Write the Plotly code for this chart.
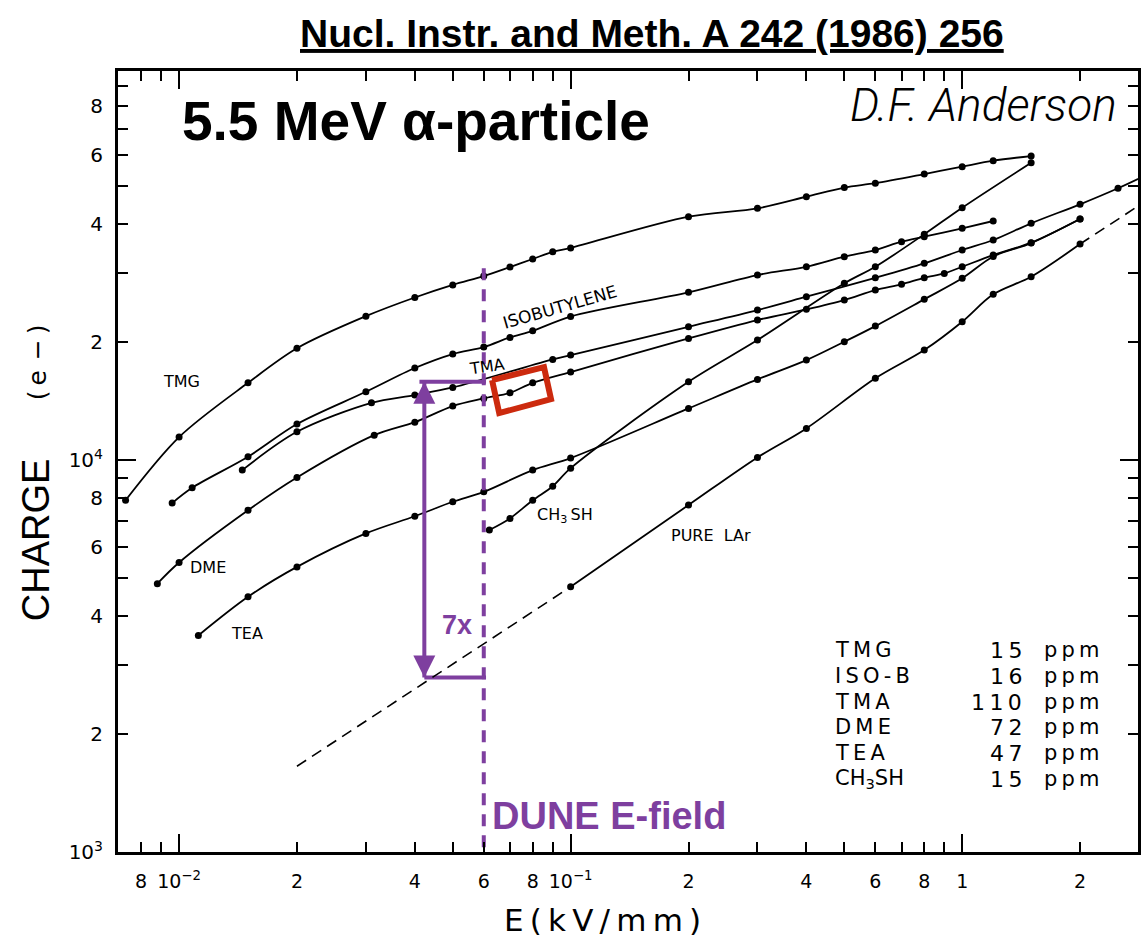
import numpy as np
import plotly.graph_objects as go

# ---------------- data (E in kV/mm, charge in electrons) ----------------
E_TMG = [0.0073, 0.01, 0.015, 0.02, 0.03, 0.04, 0.05, 0.06, 0.07, 0.08, 0.09, 0.1,
         0.2, 0.3, 0.4, 0.5, 0.6, 0.8, 1.0, 1.2, 1.5]
Q_TMG = [7900, 11450, 15750, 19300, 23300, 26000, 28000, 29500, 31100, 32600, 34000, 34800,
         41800, 43900, 47000, 49600, 50900, 53700, 56100, 58100, 59700]

E_ISO = [0.0096, 0.0108, 0.015, 0.02, 0.03, 0.04, 0.05, 0.06, 0.07, 0.08, 0.1,
         0.2, 0.3, 0.4, 0.5, 0.6, 0.7, 0.8, 1.0, 1.2]
Q_ISO = [7770, 8500, 10200, 12360, 14940, 17180, 18650, 19430, 20570, 21380, 23250,
         26800, 29670, 31150, 33040, 34370, 36090, 37170, 39050, 40760]

E_TMA = [0.0145, 0.02, 0.031, 0.04, 0.05, 0.09, 0.1, 0.2, 0.3, 0.4, 0.6, 0.8,
         1.0, 1.2, 1.5, 2.0, 2.5, 3.0]
Q_TMA = [9430, 11810, 14000, 14660, 15330, 18070, 18540, 21890, 24150, 26120, 29200, 31780,
         34370, 36450, 40210, 44960, 49400, 53800]

E_DME = [0.0088, 0.01, 0.015, 0.02, 0.0315, 0.04, 0.05, 0.06, 0.07, 0.08, 0.1,
         0.2, 0.3, 0.4, 0.5, 0.6, 0.7, 0.8, 0.9, 1.0, 1.2, 1.5, 2.0]
Q_DME = [4840, 5480, 7450, 9030, 11580, 12500, 13740, 14370, 14850, 15750, 16780,
         20450, 22780, 24250, 25620, 27160, 28090, 29200, 29960, 31150, 33370, 35880, 41240]

E_TEA = [0.0112, 0.015, 0.02, 0.03, 0.04, 0.05, 0.06, 0.08, 0.1,
         0.2, 0.3, 0.4, 0.5, 0.6, 0.8, 1.0, 1.2, 1.5, 2.0]
Q_TEA = [3570, 4480, 5340, 6500, 7190, 7830, 8300, 9430, 10120,
         13550, 16070, 18000, 20050, 21980, 25720, 29100, 33080, 35800, 41240]

E_CH3SH = [0.062, 0.07, 0.08, 0.09, 0.1, 0.2, 0.3, 0.5, 0.6, 0.8, 1.0, 1.5]
Q_CH3SH = [6630, 7100, 7900, 8580, 9540, 15850, 20250, 28260, 31150, 37700, 44070, 57400]

E_LAR = [0.1, 0.2, 0.3, 0.4, 0.6, 0.8, 1.0, 1.2, 1.5, 2.0]
Q_LAR = [4750, 7680, 10160, 12050, 16170, 19090, 22550, 26490, 29380, 35600]
# dashed power-law extrapolation of pure LAr
E_LAR_LOW = [0.02, 0.1]
Q_LAR_LOW = [1655, 4750]
E_LAR_HIGH = [2.0, 3.0]
Q_LAR_HIGH = [35600, 46400]

# purple / red overlays (data coordinates)
DUNE_E = 0.06
DUNE_Q = [30900, 1000]
ARROW_E = 0.0423
ARROW_Q = [15850, 2790]
BAR_TOP_E = [0.0411, 0.0608]
BAR_BOT_E = [0.0423, 0.0608]
BOX_E = [0.0630, 0.0855, 0.0891, 0.0657, 0.0630]
BOX_Q = [16000, 17270, 14310, 13180, 16000]

# legend table
LEG_NAMES = ["TMG", "ISO-B", "TMA", "DME", "TEA", "CH<sub>3</sub>SH"]
LEG_PPM = ["15", "16", "110", "72", "47", "15"]

# axes ticks
X_TICKS = [0.008, 0.01, 0.02, 0.04, 0.06, 0.08, 0.1, 0.2, 0.4, 0.6, 0.8, 1, 2]
X_TICK_TEXT = ["8", "10<sup>−2</sup>", "2", "4", "6", "8", "10<sup>−1</sup>",
               "2", "4", "6", "8", "1", "2"]
X_MINOR = [0.009, 0.03, 0.05, 0.07, 0.09, 0.3, 0.5, 0.7, 0.9]
X_DECADES = [0.01, 0.1, 1]
Y_TICKS = [1000, 2000, 4000, 6000, 8000, 10000, 20000, 40000, 60000, 80000]
Y_TICK_TEXT = ["10<sup>3</sup>", "2", "4", "6", "8", "10<sup>4</sup>", "2", "4", "6", "8"]
Y_MINOR = [3000, 5000, 7000, 9000, 30000, 50000, 70000, 90000]
Y_DECADES = [1000, 10000]

# ---------------- layout constants ----------------
FIG_W, FIG_H = 1143, 939
M_L, M_R, M_T, M_B = 118, 2, 71, 87
X_RANGE = [-2.156, 0.449]
Y_RANGE = [3.0, 4.993]
PURPLE = "#7E3F9F"
RED = "#CC2A0E"
HERSHEY = "DejaVu Sans"
HELV = "Liberation Sans"


def PX(x):
    return (x - M_L) / (FIG_W - M_L - M_R)


def PY(y):
    return (FIG_H - M_B - y) / (FIG_H - M_T - M_B)


def spaced(s):
    return "\u2009".join(list(s))


fig = go.Figure()


def curve(E, Q):
    fig.add_trace(go.Scatter(
        x=E, y=Q, mode="lines+markers",
        line=dict(color="black", width=1.8, shape="spline", smoothing=0.9),
        marker=dict(color="black", size=7),
        showlegend=False, hoverinfo="skip"))


for E, Q in [(E_TMG, Q_TMG), (E_ISO, Q_ISO), (E_TMA, Q_TMA), (E_DME, Q_DME),
             (E_TEA, Q_TEA), (E_CH3SH, Q_CH3SH), (E_LAR, Q_LAR)]:
    curve(E, Q)

for E, Q in [(E_LAR_LOW, Q_LAR_LOW), (E_LAR_HIGH, Q_LAR_HIGH)]:
    fig.add_trace(go.Scatter(
        x=E, y=Q, mode="lines", xaxis="x2", yaxis="y2",
        line=dict(color="black", width=1.6, dash="11px,7px"),
        showlegend=False, hoverinfo="skip"))

# DUNE E-field dashed line
fig.add_trace(go.Scatter(
    x=[DUNE_E, DUNE_E], y=DUNE_Q, mode="lines",
    line=dict(color=PURPLE, width=4, dash="12px,9px"),
    showlegend=False, hoverinfo="skip"))
# horizontal bars
fig.add_trace(go.Scatter(
    x=BAR_TOP_E, y=[ARROW_Q[0], ARROW_Q[0]], mode="lines",
    line=dict(color=PURPLE, width=4), showlegend=False, hoverinfo="skip"))
fig.add_trace(go.Scatter(
    x=BAR_BOT_E, y=[ARROW_Q[1], ARROW_Q[1]], mode="lines",
    line=dict(color=PURPLE, width=4), showlegend=False, hoverinfo="skip"))
# double arrow
fig.add_trace(go.Scatter(
    x=[ARROW_E, ARROW_E], y=ARROW_Q, mode="lines",
    line=dict(color=PURPLE, width=4), showlegend=False, hoverinfo="skip"))
fig.add_trace(go.Scatter(
    x=[ARROW_E, ARROW_E], y=ARROW_Q, mode="markers",
    marker=dict(symbol=["arrow-up", "arrow-down"], size=22, color=PURPLE,
                line=dict(width=0)),
    showlegend=False, hoverinfo="skip"))
# red box
fig.add_trace(go.Scatter(
    x=BOX_E, y=BOX_Q, mode="lines",
    line=dict(color=RED, width=6), showlegend=False, hoverinfo="skip"))

ann = []


def text(x, y, t, size, family=HERSHEY, color="black", xanchor="center",
         angle=0, weight=None, style=None, yanchor="middle"):
    f = dict(family=family, size=size, color=color)
    if weight is not None:
        f["weight"] = weight
    if style is not None:
        f["style"] = style
    ann.append(dict(x=PX(x), y=PY(y), xref="paper", yref="paper", text=t,
                    showarrow=False, font=f, xanchor=xanchor, yanchor=yanchor,
                    textangle=angle))


text(654, 34, "<b><u>Nucl. Instr. and Meth. A 242 (1986) 256</u></b>", 39, family=HELV)
text(417, 121, "<b>5.5 MeV α-particle</b>", 55, family=HELV)
text(1122, 105, "D.F. Anderson", 46, family="Roboto", xanchor="right",
     weight=300, style="italic")
text(36, 540, "CHARGE", 38, family=HELV, angle=-90)
text(37, 362, "(\u2009e\u2009\u2009−\u2009)", 25, angle=-90)
text(604, 920, spaced("E(kV/mm)"), 31)

# curve labels
text(182, 381, "TMG", 16)
text(561, 307, "ISOBUTYLENE", 17, angle=-16)
text(488, 366, "TMA", 16, angle=-8)
text(208, 567, "DME", 16)
text(247, 633, "TEA", 16)
text(566, 515, "CH<sub>3</sub>\u2009SH", 16)
text(713, 535, "PURE\u00a0\u00a0LAr", 16)

# purple / annotation texts
text(491, 816, "<b>DUNE E-field</b>", 38, family=HELV, color=PURPLE, xanchor="left")
text(458, 625, "<b>7x</b>", 27, family=HELV, color=PURPLE)

# concentration table
ROW_Y = [650, 676, 702, 727, 753, 779]
for name, ppm, yy in zip(LEG_NAMES, LEG_PPM, ROW_Y):
    nm = name if "<" in name else spaced(name)
    text(835, yy, nm, 21, xanchor="left")
    text(1027, yy, spaced(ppm), 22, xanchor="right")
    text(1045, yy, spaced("ppm"), 21, xanchor="left")

axis_common = dict(
    type="log", showgrid=False, zeroline=False,
    ticks="inside", tickcolor="black", tickwidth=2,
    showline=True, linecolor="black", linewidth=3, mirror="ticks",
)

fig.update_layout(
    width=FIG_W, height=FIG_H,
    margin=dict(l=M_L, r=M_R, t=M_T, b=M_B, pad=0),
    paper_bgcolor="white", plot_bgcolor="white",
    font=dict(family=HERSHEY, color="black"),
    showlegend=False, hovermode=False,
    xaxis=dict(**axis_common, range=X_RANGE, tickmode="array",
               tickvals=X_TICKS, ticktext=X_TICK_TEXT, ticklen=10,
               tickfont=dict(family=HERSHEY, size=19), ticklabelstandoff=10,
               minor=dict(tickmode="array", tickvals=X_MINOR, ticks="inside",
                          ticklen=10, tickwidth=2, tickcolor="black", showgrid=False)),
    yaxis=dict(**axis_common, range=Y_RANGE, tickmode="array",
               tickvals=Y_TICKS, ticktext=Y_TICK_TEXT, ticklen=10,
               tickfont=dict(family=HERSHEY, size=20), ticklabelstandoff=8,
               minor=dict(tickmode="array", tickvals=Y_MINOR, ticks="inside",
                          ticklen=10, tickwidth=2, tickcolor="black", showgrid=False)),
    xaxis2=dict(**axis_common, range=X_RANGE, overlaying="x", anchor="y", side="bottom",
                tickmode="array", tickvals=X_DECADES, ticklen=18, showticklabels=False),
    yaxis2=dict(**axis_common, range=Y_RANGE, overlaying="y", anchor="x", side="left",
                tickmode="array", tickvals=Y_DECADES, ticklen=18, showticklabels=False),
    annotations=ann,
)

fig.write_html("out.html")
